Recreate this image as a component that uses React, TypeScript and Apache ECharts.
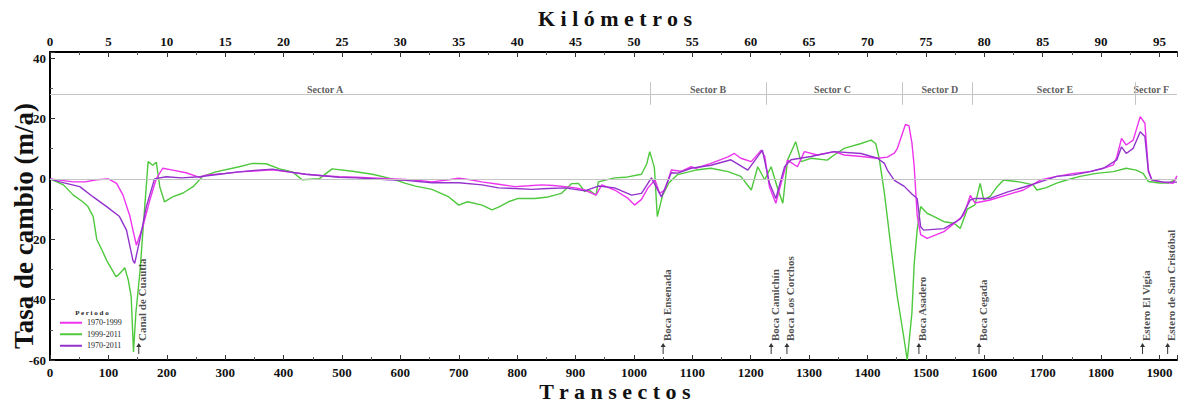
import React, { useEffect, useRef } from "react";
import * as echarts from "echarts";

const FONT = '"Liberation Serif", "DejaVu Serif", serif';

const seriesNames = ["1970-1999", "1999-2011", "1970-2011"];
const seriesColors = ["#ee33ee", "#4ec83c", "#9333cc"];

const transects7099 = [0,20,40,60,80,100,114,125,137,142,148,159,171,182,193,210,233,256,267,300,324,350,381,410,438,467,495,525,552,580,609,635,654,680,700,720,739,768,797,820,842,862,882,900,916,935,945,967,990,1001,1013,1024,1036,1044,1053,1064,1081,1098,1106,1132,1161,1172,1183,1201,1218,1224,1232,1243,1252,1263,1280,1292,1314,1343,1360,1390,1417,1434,1446,1451,1458,1465,1471,1476,1480,1485,1491,1502,1531,1553,1565,1576,1584,1610,1639,1667,1696,1724,1753,1781,1804,1821,1827,1835,1843,1855,1867,1875,1881,1887,1906,1923,1930];
const rate7099 = [0,-0.5,-1,-1,-0.3,0,-1.5,-5.4,-12.5,-17,-22,-15.8,-7,0,3.5,2.9,2,0.5,1.2,1.8,2.3,2.6,3,2.2,1.5,1,0.7,0.5,0.3,0,-0.2,-0.6,-1,-0.4,0.2,-0.3,-1,-1.8,-2.6,-2.3,-2,-2.2,-2.6,-3,-3.7,-5.4,-2,-3.7,-6.5,-8.7,-6.8,-3,-0.4,-4.8,-3.7,2.9,2.5,4,3.5,5.1,7.3,8.4,6.8,5.7,9.5,7.4,-2.6,-8.1,-1.5,6.2,4,9,7.9,9,7.9,7.4,6.8,7.2,8.5,10,14,18,17.5,12,4,-12,-18.5,-19.7,-17.5,-14,-12,-5.5,-8,-7,-5.3,-3.7,-0.4,0.8,1.8,2.4,3.5,4.6,7.3,13.4,11.2,12.8,20.6,18.4,2.9,-0.4,-1.1,-1.5,1];

const transects9911 = [0,23,40,56,65,74,80,90,97,113,116,125,128,134,139,143,147,154,160,168,176,182,188,196,210,228,245,262,284,324,347,370,393,415,432,461,483,518,552,586,609,626,654,683,700,715,740,757,770,785,802,830,853,876,893,905,916,922,935,939,967,985,1013,1022,1027,1035,1040,1049,1060,1075,1106,1132,1161,1183,1201,1212,1224,1235,1246,1255,1263,1277,1286,1303,1331,1343,1360,1389,1406,1414,1420,1429,1440,1451,1462,1468,1476,1480,1485,1491,1502,1514,1531,1548,1559,1571,1584,1593,1599,1610,1622,1633,1660,1684,1690,1705,1724,1741,1764,1792,1821,1843,1860,1872,1881,1900,1915,1930];
const rate9911 = [0,-2,-5.4,-7.6,-9.2,-12.5,-20,-24,-27,-32.4,-32,-30.2,-29.4,-33.5,-39,-57.3,-44.5,-31,-15,5.7,4.5,5.5,-2.6,-7.6,-6,-4.7,-2.6,0.9,2.3,4,5.1,5,3.3,2.3,-0.3,0,3.3,2.5,1.5,0,-1.5,-2.4,-3.5,-6,-8.7,-7.6,-8.7,-10.3,-9.2,-7.6,-6.5,-6.5,-6,-4.8,-1.6,-1.5,-4.2,-3.6,-5.4,-1,0.3,0.5,1.5,5,9,3.8,-12.5,-5.5,-1.3,1.4,2.9,3.5,2.4,0.8,-3.7,4,-0.3,4,-3.1,-8.1,6.2,12.3,5.7,6.8,6.2,7.9,10.1,11.7,12.8,11.7,6.8,-4.8,-22.5,-39,-52.3,-60,-44.5,-28,-17,-9.2,-11.4,-12.5,-14.2,-14.7,-16.4,-10,-8.6,-1.5,-7,-5.8,-2.6,-0.4,-1,-2,-3.7,-3,-1.4,-0.4,0.8,1.8,2.4,3.5,2.9,1.8,-0.9,-1.4,-1.4,0];

const transects7011 = [0,17,51,74,97,119,131,142,145,154,165,179,199,225,256,290,324,350,381,410,438,467,495,525,552,580,609,654,700,740,768,797,825,853,882,916,939,967,996,1013,1030,1047,1064,1075,1098,1132,1166,1195,1220,1232,1243,1258,1269,1303,1343,1389,1417,1429,1434,1446,1463,1476,1485,1491,1496,1531,1559,1576,1584,1610,1639,1667,1696,1724,1753,1781,1804,1827,1835,1843,1855,1867,1875,1881,1887,1906,1930];
const rate7011 = [0,-1,-2.6,-6,-9.2,-12.5,-17,-27,-28,-20,-9.2,0,0.7,0.3,0.7,1.5,2.3,2.8,3.2,2.3,1.5,1,0.5,0.3,0,-0.3,-0.5,-1.3,-1.3,-2,-3,-3.2,-3.5,-3.2,-3,-4,-2.4,-3,-5.4,-4.8,0.3,-6,2,1.9,3.5,4.5,6.3,2.9,9.5,-1.4,-6.5,4,6.3,7.4,9,8.4,6.8,5.1,2.9,-0.5,-2.5,-5,-6.5,-15.9,-17,-16.5,-13.3,-7,-6.5,-6.5,-4.4,-2.8,-1,0.8,1.3,2.4,3.5,6.3,10.6,8.4,10.1,15.6,14,2.4,-0.4,-1.1,-1.1];

const sectorNames = ["Sector A", "Sector B", "Sector C", "Sector D", "Sector E", "Sector F"];
const sectorLabelTransects = [471, 1127, 1340, 1524, 1721, 1886];
const sectorBoundaries = [1028, 1227, 1460, 1579, 1859];

const placeNames = ["Canal de Cuautla", "Boca Ensenada", "Boca Camichín", "Boca Los Corchos", "Boca Asadero", "Boca Cegada", "Estero El Vigía", "Estero de San Cristóbal"];
const placeTransects = [152, 1050, 1235, 1262, 1488, 1591, 1871, 1914];

const xTickLabelsKm = [0, 5, 10, 15, 20, 25, 30, 35, 40, 45, 50, 55, 60, 65, 70, 75, 80, 85, 90, 95];

const X_MAX = 1930;
const Y_MIN = -60;
const Y_MAX = 42;
const SECTOR_LINE_Y = 28;

export default function App() {
  const ref = useRef<HTMLDivElement | null>(null);

  useEffect(() => {
    document.body.style.margin = "0";
    if (!ref.current) return;
    const chart = echarts.init(ref.current, undefined, { renderer: "svg" });

    const pairs = (ts: number[], vs: number[]) => ts.map((t, i) => [t, vs[i]]);
    const lineData = [
      pairs(transects7099, rate7099),
      pairs(transects9911, rate9911),
      pairs(transects7011, rate7011),
    ];

    const tickLabel = { fontFamily: FONT, fontWeight: "bold" as const, fontSize: 13, color: "#111" };
    const axisLine = { show: true, onZero: false, lineStyle: { color: "#000", width: 2 } };
    const axisTick = { show: true, inside: true, length: 5, lineStyle: { color: "#333", width: 1 } };
    const minorTick = { show: true, splitNumber: 2, length: 3, lineStyle: { color: "#555", width: 1 } };

    const lineOrder = [1, 0, 2];
    const lineSeries = lineOrder.map((i) => ({
      name: seriesNames[i],
      type: "line",
      data: lineData[i],
      showSymbol: false,
      symbol: "none",
      lineStyle: { color: seriesColors[i], width: 1.4 },
      itemStyle: { color: seriesColors[i] },
      z: 3,
    }));

    const markLines: any[] = [
      [{ coord: [0, 0] }, { coord: [X_MAX, 0] }],
      [{ coord: [0, SECTOR_LINE_Y] }, { coord: [X_MAX, SECTOR_LINE_Y] }],
      ...sectorBoundaries.map((b) => [{ coord: [b, 24.5] }, { coord: [b, 32] }]),
    ];

    chart.setOption({
      animation: false,
      grid: { left: 50, right: 0, top: 52, bottom: 43, containLabel: false },
      legend: {
        data: seriesNames,
        orient: "vertical",
        left: 60,
        top: 317,
        padding: 0,
        itemGap: 0,
        itemWidth: 22,
        itemHeight: 2,
        icon: "rect",
        textStyle: { fontFamily: FONT, fontSize: 8, lineHeight: 11.5, color: "#222" },
      },
      xAxis: [
        {
          type: "value",
          position: "bottom",
          min: 0,
          max: X_MAX,
          interval: 100,
          axisLine,
          axisTick,
          minorTick,
          splitLine: { show: false },
          axisLabel: {
            ...tickLabel,
            margin: 6,
            formatter: (v: number) => (v % 100 === 0 ? String(v) : ""),
          },
        },
        {
          type: "value",
          position: "top",
          min: 0,
          max: X_MAX * 0.05,
          interval: 5,
          axisLine,
          axisTick,
          minorTick,
          splitLine: { show: false },
          axisLabel: {
            ...tickLabel,
            margin: 4,
            formatter: (v: number) => (xTickLabelsKm.includes(v) ? String(v) : ""),
          },
        },
      ],
      yAxis: {
        type: "value",
        min: Y_MIN,
        max: Y_MAX,
        interval: 20,
        axisLine,
        axisTick,
        minorTick,
        splitLine: { show: false },
        axisLabel: {
          ...tickLabel,
          margin: 4,
          formatter: (v: number) => (v % 20 === 0 ? String(v) : ""),
        },
      },
      series: [
        {
          name: "sectors",
          type: "scatter",
          data: sectorNames.map((n, i) => ({ name: n, value: [sectorLabelTransects[i], 29.6] })),
          symbolSize: 0,
          silent: true,
          z: 2,
          label: {
            show: true,
            formatter: "{b}",
            position: "inside",
            fontFamily: FONT,
            fontWeight: "bold",
            fontSize: 10,
            color: "#333",
          },
          markLine: {
            silent: true,
            symbol: "none",
            label: { show: false },
            lineStyle: { color: "#c4c4c4", width: 1, type: "solid" },
            data: markLines,
          },
        },
        ...lineSeries,
        {
          name: "places",
          type: "scatter",
          data: placeNames.map((n, i) => ({ name: n, value: [placeTransects[i], -56.2] })),
          symbol: "path://M3,0 L6,4 L3.6,4 L3.6,11 L2.4,11 L2.4,4 L0,4 Z",
          symbolSize: [5, 11],
          itemStyle: { color: "#000" },
          silent: true,
          z: 4,
          label: {
            show: true,
            formatter: "{b}",
            position: [6, -2],
            rotate: 90,
            align: "left",
            verticalAlign: "middle",
            fontFamily: FONT,
            fontWeight: "bold",
            fontSize: 11,
            color: "#222",
          },
        },
      ],
      graphic: [
        {
          type: "text",
          x: 615,
          y: 18,
          style: {
            text: "K i l ó m e t r o s",
            fontFamily: FONT,
            fontWeight: "bold",
            fontSize: 22,
            fill: "#111",
            align: "center",
            verticalAlign: "middle",
          },
        },
        {
          type: "text",
          x: 615,
          y: 391,
          style: {
            text: "T r a n s e c t o s",
            fontFamily: FONT,
            fontWeight: "bold",
            fontSize: 22,
            fill: "#111",
            align: "center",
            verticalAlign: "middle",
          },
        },
        {
          type: "text",
          x: 24,
          y: 226,
          rotation: Math.PI / 2,
          style: {
            text: "Tasa de cambio (m/a)",
            fontFamily: FONT,
            fontWeight: "bold",
            fontSize: 27,
            fill: "#111",
            align: "center",
            verticalAlign: "middle",
          },
        },
        {
          type: "text",
          x: 92,
          y: 313,
          style: {
            text: "P e r i o d o",
            fontFamily: FONT,
            fontWeight: "bold",
            fontSize: 7,
            fill: "#222",
            align: "center",
            verticalAlign: "middle",
          },
        },
      ],
    });

    return () => chart.dispose();
  }, []);

  return <div ref={ref} style={{ width: 1180, height: 403 }} />;
}
